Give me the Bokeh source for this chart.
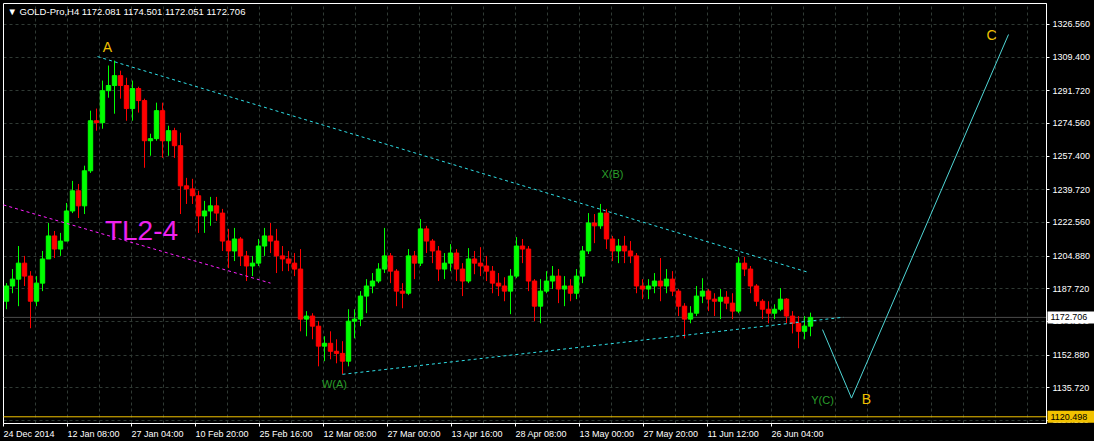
from bokeh.plotting import figure
from bokeh.models import (Range1d, FixedTicker, PrintfTickFormatter, Label, LinearAxis,
                          ColumnDataSource, GlobalInlineStyleSheet)
from bokeh.core.properties import value
from bokeh.embed import file_html
from bokeh.resources import INLINE

# ---------------- data (daily candles) ----------------
opens = [
    1181.2, 1189.2, 1192.8, 1201.2, 1194.4, 1181.2, 1190.7, 1203.4, 1215.5, 1208.6,
    1212.8, 1228.6, 1239.2, 1231.3, 1249.7, 1276.0, 1275.0, 1291.8, 1294.5, 1299.7,
    1294.5, 1282.4, 1292.9, 1286.6, 1265.5, 1266.6, 1281.3, 1265.5, 1270.8, 1262.9,
    1241.8, 1240.2, 1236.6, 1226.0, 1228.6, 1231.3, 1227.5, 1212.8, 1207.6, 1213.9,
    1205.0, 1199.7, 1201.2, 1210.2, 1215.5, 1212.8, 1205.0, 1203.4, 1201.2, 1198.1,
    1171.8, 1173.4, 1168.1, 1157.6, 1159.1, 1154.9, 1153.8, 1149.7, 1170.7, 1171.8,
    1183.9, 1189.2, 1191.8, 1198.1, 1205.0, 1197.0, 1186.5, 1185.4, 1205.0, 1201.2,
    1219.2, 1212.8, 1207.6, 1198.1, 1201.2, 1206.5, 1198.1, 1191.8, 1203.4, 1201.2,
    1199.7, 1197.0, 1190.7, 1189.2, 1186.5, 1194.4, 1210.2, 1208.6, 1191.8, 1178.6,
    1186.5, 1191.8, 1194.4, 1187.6, 1189.2, 1185.4, 1194.4, 1207.6, 1222.3, 1220.8,
    1227.5, 1213.9, 1207.6, 1210.2, 1207.6, 1205.0, 1189.2, 1187.6, 1189.2, 1191.8,
    1189.2, 1192.8, 1186.5, 1178.6, 1171.8, 1174.9, 1183.9, 1186.5, 1182.3, 1181.2,
    1183.3, 1180.2, 1176.0, 1201.2, 1198.1, 1189.2, 1181.2, 1177.0, 1174.9, 1177.0,
    1182.3, 1173.4, 1169.6, 1165.4, 1168.1]
highs = [
    1190.7, 1198.1, 1210.2, 1205.0, 1197.0, 1194.4, 1207.6, 1222.3, 1218.1, 1217.1,
    1232.8, 1244.4, 1242.8, 1252.4, 1281.3, 1282.4, 1297.1, 1305.0, 1307.6, 1302.3,
    1298.6, 1297.1, 1293.9, 1287.6, 1269.2, 1285.5, 1285.5, 1273.4, 1272.3, 1269.7,
    1246.0, 1245.5, 1239.2, 1233.9, 1236.0, 1236.0, 1229.7, 1219.2, 1219.7, 1214.9,
    1207.6, 1205.0, 1213.9, 1219.7, 1222.3, 1219.2, 1210.2, 1207.6, 1206.5, 1208.6,
    1176.0, 1174.9, 1170.7, 1162.8, 1165.4, 1161.2, 1160.2, 1177.0, 1177.0, 1186.5,
    1192.8, 1196.0, 1201.2, 1219.7, 1206.5, 1198.1, 1190.7, 1208.6, 1207.6, 1224.4,
    1220.8, 1213.9, 1210.2, 1206.5, 1211.2, 1208.6, 1201.2, 1209.1, 1207.6, 1209.6,
    1205.0, 1199.7, 1196.0, 1193.8, 1198.1, 1214.9, 1213.9, 1210.2, 1192.8, 1192.8,
    1197.0, 1199.7, 1198.1, 1194.4, 1192.8, 1198.1, 1210.2, 1227.5, 1227.0, 1232.3,
    1229.7, 1215.5, 1213.9, 1215.5, 1212.8, 1206.5, 1192.8, 1192.8, 1196.0, 1203.9,
    1198.1, 1197.0, 1187.6, 1180.2, 1178.6, 1189.2, 1193.3, 1187.6, 1185.4, 1187.6,
    1186.5, 1185.4, 1204.4, 1204.4, 1199.7, 1190.2, 1182.3, 1181.2, 1179.6, 1188.1,
    1182.8, 1176.0, 1173.4, 1173.4, 1175.2]
lows = [
    1177.0, 1185.4, 1178.6, 1189.2, 1167.0, 1178.6, 1186.5, 1206.5, 1203.9, 1205.0,
    1215.5, 1227.5, 1224.9, 1227.0, 1248.6, 1270.8, 1271.8, 1288.1, 1279.7, 1287.6,
    1276.0, 1276.0, 1280.3, 1251.3, 1257.6, 1265.5, 1256.5, 1257.6, 1256.5, 1227.0,
    1232.3, 1232.3, 1217.1, 1217.1, 1220.8, 1223.4, 1207.6, 1198.6, 1202.3, 1199.7,
    1191.8, 1194.4, 1199.7, 1205.0, 1206.5, 1196.0, 1197.0, 1197.0, 1194.4, 1165.4,
    1162.8, 1161.2, 1147.0, 1149.7, 1150.7, 1148.6, 1142.8, 1147.0, 1161.7, 1168.1,
    1174.9, 1185.4, 1190.7, 1196.0, 1190.7, 1178.6, 1177.5, 1184.4, 1192.8, 1199.7,
    1206.5, 1201.2, 1191.8, 1192.8, 1197.0, 1191.8, 1183.9, 1190.7, 1195.4, 1194.4,
    1191.8, 1185.4, 1183.9, 1181.2, 1174.4, 1193.3, 1201.2, 1186.5, 1170.7, 1169.6,
    1185.4, 1187.6, 1180.2, 1178.6, 1181.2, 1182.3, 1190.7, 1206.0, 1211.7, 1219.2,
    1208.6, 1202.3, 1201.2, 1201.2, 1201.2, 1185.4, 1182.3, 1182.3, 1185.4, 1181.2,
    1185.4, 1183.9, 1173.4, 1161.7, 1169.6, 1173.4, 1180.2, 1176.0, 1173.4, 1171.8,
    1177.0, 1171.8, 1174.9, 1194.4, 1185.4, 1178.6, 1171.8, 1169.6, 1171.8, 1176.0,
    1169.6, 1164.3, 1156.5, 1161.2, 1162.8]
closes = [
    1189.2, 1192.8, 1201.2, 1194.4, 1181.2, 1190.7, 1203.4, 1215.5, 1208.6, 1212.8,
    1228.6, 1239.2, 1231.3, 1249.7, 1276.0, 1275.0, 1291.8, 1294.5, 1299.7, 1294.5,
    1282.4, 1292.9, 1286.6, 1265.5, 1266.6, 1281.3, 1265.5, 1270.8, 1262.9, 1241.8,
    1240.2, 1236.6, 1226.0, 1228.6, 1231.3, 1227.5, 1212.8, 1207.6, 1213.9, 1205.0,
    1199.7, 1201.2, 1210.2, 1215.5, 1212.8, 1205.0, 1203.4, 1201.2, 1198.1, 1171.8,
    1173.4, 1168.1, 1157.6, 1159.1, 1154.9, 1153.8, 1149.7, 1170.7, 1171.8, 1183.9,
    1189.2, 1191.8, 1198.1, 1205.0, 1197.0, 1186.5, 1185.4, 1205.0, 1201.2, 1219.2,
    1212.8, 1207.6, 1198.1, 1201.2, 1206.5, 1198.1, 1191.8, 1203.4, 1201.2, 1199.7,
    1197.0, 1190.7, 1189.2, 1186.5, 1194.4, 1210.2, 1208.6, 1191.8, 1178.6, 1186.5,
    1191.8, 1194.4, 1187.6, 1189.2, 1185.4, 1194.4, 1207.6, 1222.3, 1220.8, 1227.5,
    1213.9, 1207.6, 1210.2, 1207.6, 1205.0, 1189.2, 1187.6, 1189.2, 1191.8, 1189.2,
    1192.8, 1186.5, 1178.6, 1171.8, 1174.9, 1183.9, 1186.5, 1182.3, 1181.2, 1183.3,
    1180.2, 1176.0, 1201.2, 1198.1, 1189.2, 1181.2, 1177.0, 1174.9, 1177.0, 1182.3,
    1173.4, 1169.6, 1165.4, 1168.1, 1172.706]

BARS_PER_DAY = 6  # H4 bars per trading day (x axis is in H4-bar units)

price_ticks = [1326.56, 1309.40, 1291.72, 1274.56, 1257.40, 1239.72, 1222.56,
               1204.88, 1187.72, 1170.56, 1152.88, 1135.72, 1118.56]
date_tick_bars = [0, 64, 128, 192, 256, 320, 384, 448, 512, 576, 640, 704, 768]
date_tick_labels = ["24 Dec 2014", "12 Jan 08:00", "27 Jan 04:00", "10 Feb 20:00",
                    "25 Feb 16:00", "12 Mar 08:00", "27 Mar 00:00", "13 Apr 16:00",
                    "28 Apr 08:00", "13 May 00:00", "27 May 20:00", "11 Jun 12:00",
                    "26 Jun 04:00"]

bid_price = 1172.706
level_price = 1120.498
title_text = "\u25BC GOLD-Pro,H4  1172.081 1174.501 1172.051 1172.706"

# trend lines (bar index, price)
upper_tl_x, upper_tl_y = [94, 804], [1309.7, 1196.5]
lower_tl_x, lower_tl_y = [339, 840], [1142.8, 1172.8]
tl24_x, tl24_y = [0, 267], [1231.8, 1190.7]
proj_x, proj_y = [819, 848, 1005], [1166.3, 1130.3, 1321.3]

# wave labels
gold_labels, gold_x, gold_y = ["A", "B", "C"], [104, 863, 988], [1315.0, 1129.7, 1321.3]
green_labels, green_x, green_y = ["X(B)", "W(A)", "Y(C)"], [609, 331, 819], [1248.1, 1137.5, 1129.1]
tl_label, tl_label_x, tl_label_y = ["TL2-4"], [138], [1218.1]

# price boxes on the scale
box_texts = ["1172.706", "1120.498"]
box_prices = [bid_price, level_price]
box_fills = ["#ffffff", "#f2c200"]

# ---------------- layout of the MT4 chart window ----------------
W, H = 1094, 441                    # canvas
X0, X1 = 0, 1043                    # chart window in H4 bars
Y0, Y1 = 1116.97, 1337.59           # chart window in price
FX0, FX1, FY0, FY1 = 3, 1046, 3, 423   # chart window in canvas pixels (left, right, top, bottom)
bpp = (X1 - X0) / (FX1 - FX0)
ppp = (Y1 - Y0) / (FY1 - FY0)
x_range = Range1d(X0 - FX0 * bpp, X1 + (W - FX1) * bpp)
y_range = Range1d(Y0 - (H - FY1) * ppp, Y1 + FY0 * ppp)

FONT = "Liberation Sans"
p = figure(width=W, height=H, output_backend="svg", toolbar_location=None,
           x_range=x_range, y_range=y_range, x_axis_location=None, y_axis_location=None,
           background_fill_color="black", border_fill_color="black",
           min_border_left=0, min_border_top=0, min_border_right=0, min_border_bottom=0)
p.stylesheets = [GlobalInlineStyleSheet(css="html, body { background: #000000; overflow: hidden; }")]
p.outline_line_color = None

# grid (limited to the chart window)
p.xgrid.ticker = FixedTicker(ticks=list(range(32, X1, 32)))
p.ygrid.ticker = FixedTicker(ticks=price_ticks)
p.xgrid.cross_bounds = (Y0, Y1)
p.ygrid.cross_bounds = (X0, X1)
for g in (p.xgrid, p.ygrid):
    g.grid_line_color = "#303a34"
    g.grid_line_dash = "3 3"
    g.grid_line_width = 1

# right price axis, pinned to the chart window's right edge
ya = LinearAxis(fixed_location=X1, bounds=(Y0, Y1))
ya.ticker = FixedTicker(ticks=price_ticks)
ya.formatter = PrintfTickFormatter(format="%.3f")
ya.major_label_text_color = "white"
ya.major_label_text_font = FONT
ya.major_label_text_font_size = "9px"
ya.major_tick_in = 0
ya.major_tick_out = 3
ya.minor_tick_out = 0
ya.minor_tick_in = 0
ya.major_tick_line_color = "white"
ya.axis_line_color = "white"
ya.major_label_standoff = 3
p.add_layout(ya, "right")

# bottom time axis, pinned to the chart window's bottom edge (labels drawn MT4-style)
xa = LinearAxis(fixed_location=Y0, bounds=(X0, X1))
xa.ticker = FixedTicker(ticks=date_tick_bars)
xa.major_label_text_color = None
xa.major_tick_in = 0
xa.major_tick_out = 3
xa.minor_tick_in = 0
xa.minor_tick_out = 0
xa.major_tick_line_color = "white"
xa.axis_line_color = "white"
p.add_layout(xa, "below")

for bx, lab in zip(date_tick_bars, date_tick_labels):
    p.add_layout(Label(x=bx, y=Y0, text=lab, x_offset=0, y_offset=-5,
                       text_align="left", text_baseline="top", text_color="white",
                       text_font=FONT, text_font_size="9px"))

# chart window border
p.quad(left=[X0], right=[X1], bottom=[Y0], top=[Y1], fill_color=None,
       line_color="white", line_width=1)

# horizontal price lines
p.segment(x0=[X0], x1=[X1], y0=[bid_price], y1=[bid_price], line_color="#4a4a4a", line_width=1)
p.segment(x0=[X0], x1=[X1], y0=[level_price], y1=[level_price], line_color="#f2c200", line_width=1)

# candles
xs = [i * BARS_PER_DAY + BARS_PER_DAY / 2 for i in range(len(closes))]
cols = ["#00ff00" if c >= o else "#ff0000" for o, c in zip(opens, closes)]
src = ColumnDataSource(dict(x=xs, o=opens, h=highs, l=lows, c=closes, col=cols,
                            top=[max(o, c) for o, c in zip(opens, closes)],
                            bot=[min(o, c) for o, c in zip(opens, closes)]))
p.segment(x0="x", y0="l", x1="x", y1="h", line_color="col", line_width=1, source=src)
p.vbar(x="x", width=4.4, top="top", bottom="bot", fill_color="col", line_color="col",
       line_width=1, source=src)

# trend lines
p.line(upper_tl_x, upper_tl_y, line_color="#2fe0e8", line_dash="3 3", line_width=1)
p.line(lower_tl_x, lower_tl_y, line_color="#2fe0e8", line_dash="3 3", line_width=1)
p.line(tl24_x, tl24_y, line_color="#ff20ff", line_dash="3 3", line_width=1)
p.line(proj_x, proj_y, line_color="#4fd6d6", line_width=1)

# labels
p.text(gold_x, gold_y, text=gold_labels, text_color="#f0c000", text_font=value(FONT),
       text_font_size="14px", text_align="center", text_baseline="middle")
p.text(green_x, green_y, text=green_labels, text_color="#2a9e2a", text_font=value(FONT),
       text_font_size="11px", text_align="center", text_baseline="middle")
p.text(tl_label_x, tl_label_y, text=tl_label, text_color="#ee22ee", text_font=value(FONT),
       text_font_size="28px", text_align="center", text_baseline="middle")

# title
p.add_layout(Label(x=X0, y=Y1, x_offset=4, y_offset=-2, text=title_text,
                   text_align="left", text_baseline="top", text_color="white",
                   text_font=FONT, text_font_size="9.5px"))

# price boxes on the scale (drawn over the axis labels)
box_w_px = W - FX1 - 1
rb = p.rect(x=[X1 + (1 + box_w_px / 2) * bpp] * len(box_prices), y=box_prices,
            width=box_w_px, height=12, width_units="screen", height_units="screen",
            fill_color=box_fills, line_color=None)
rt = p.text(x=[X1 + 4 * bpp] * len(box_prices), y=box_prices, text=box_texts,
            text_color="black", text_font=value(FONT), text_font_size="9px",
            text_align="left", text_baseline="middle")
rb.level = "overlay"
rt.level = "overlay"

open("out.html", "w").write(file_html(p, INLINE))
